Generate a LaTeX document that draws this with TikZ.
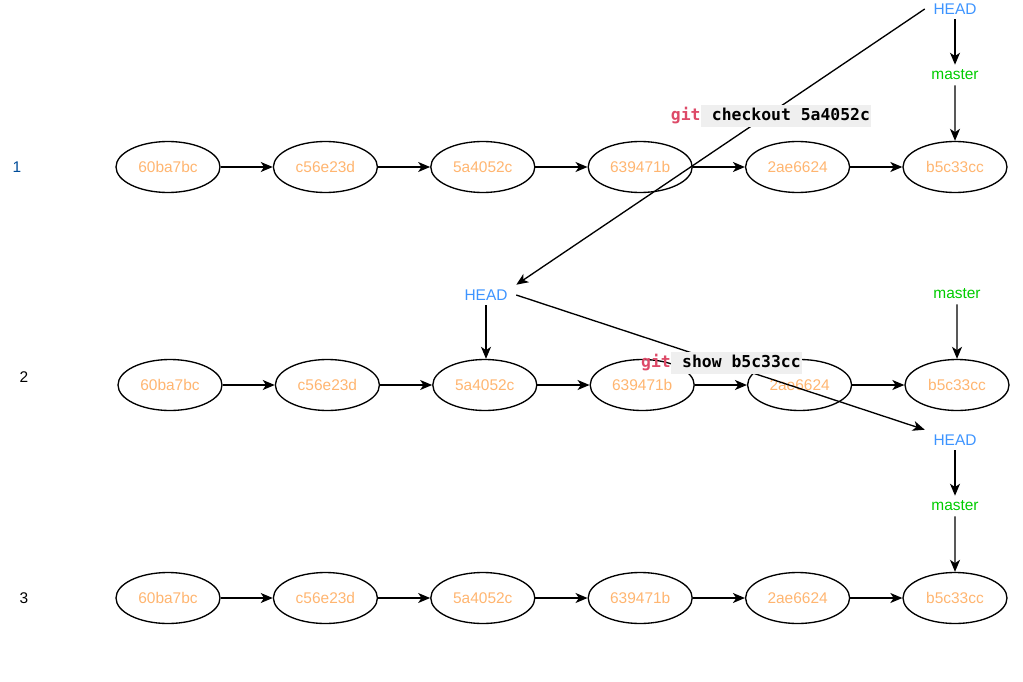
\documentclass[tikz,border=0pt]{standalone}
\usepackage{fontspec}
\setmainfont{Liberation Sans}
\newfontfamily\cmdfont{DejaVu Sans Mono}
\usetikzlibrary{shapes.geometric,arrows.meta}
\definecolor{hashc}{HTML}{FFB570}
\definecolor{headc}{HTML}{3D94FF}
\definecolor{masterc}{HTML}{00CC00}
\definecolor{rowone}{HTML}{004C99}
\definecolor{gitc}{HTML}{DD4A68}
\definecolor{cmdbg}{HTML}{EFEFEF}
\begin{document}
\begin{tikzpicture}[x=0.75pt,y=-0.75pt,
  txt/.style={font=\fontsize{11.6}{14}\selectfont},
  commit/.style={ellipse,draw,line width=1pt,minimum width=78pt,minimum height=38.25pt,inner sep=0pt,text=hashc,txt},
  ref/.style={minimum width=45pt,minimum height=15pt,inner sep=0pt,txt},
  headref/.style={ref,text=headc},
  masterref/.style={ref,text=masterc},
  rowlbl/.style={inner sep=0pt,txt},
  arr/.style={-{Stealth[length=9pt,width=7.5pt,inset=2.5pt]},line width=1pt},
  cmdbox/.style={fill=cmdbg,inner xsep=0.75pt,inner ysep=2pt,text height=9.5pt,text depth=3pt,font=\cmdfont\bfseries\fontsize{12.3}{14}\selectfont},
  cmdgit/.style={inner sep=0pt,text=gitc,font=\cmdfont\bfseries\fontsize{12.3}{14}\selectfont}]
\useasboundingbox (0,0) rectangle (1023,681);
% row labels
\node[rowlbl,text=rowone] (n1) at (17,167) {1};
\node[rowlbl] (n2) at (24,377) {2};
\node[rowlbl] (n3) at (24,598) {3};
% commits
\foreach \h [count=\i] in {60ba7bc,c56e23d,5a4052c,639471b,2ae6624,b5c33cc} {
  \node[commit] (a\i) at ({168+157.4*(\i-1)},167) {\h};
  \node[commit] (b\i) at ({170+157.4*(\i-1)},385) {\h};
  \node[commit] (c\i) at ({168+157.4*(\i-1)},598) {\h};
}
\foreach \i [remember=\i as \p (initially 1)] in {2,...,6} {
  \draw[arr] (a\p) -- (a\i);
  \draw[arr] (b\p) -- (b\i);
  \draw[arr] (c\p) -- (c\i);
}
% refs
\node[headref] (h1) at (955,9) {HEAD};
\node[masterref] (m1) at (955,75) {master};
\node[headref] (h2) at (486,295) {HEAD};
\node[masterref] (m2) at (957,294) {master};
\node[headref] (h3) at (955,440) {HEAD};
\node[masterref] (m3) at (955,506) {master};
\draw[arr] (h1) -- (m1);
\draw[arr] (m1) -- (a6.north);
\draw[arr] (h2.south) -- (h2.south |- b3.north);
\draw[arr] (m2) -- (b6.north);
\draw[arr] (h3) -- (m3);
\draw[arr] (m3) -- (c6.north);
% transitions
\draw[arr] (h1.west) -- (h2.north east);
\draw[arr] (h2.east) -- (h3.north west);
% commands
\node[cmdbox] (k1) at (786,116) {~checkout 5a4052c};
\node[cmdgit,anchor=base east] (g1) at (k1.base west) {git};
\node[cmdbox] (k2) at (736.5,363) {~show b5c33cc};
\node[cmdgit,anchor=base east] (g2) at (k2.base west) {git};
\end{tikzpicture}
\end{document}
